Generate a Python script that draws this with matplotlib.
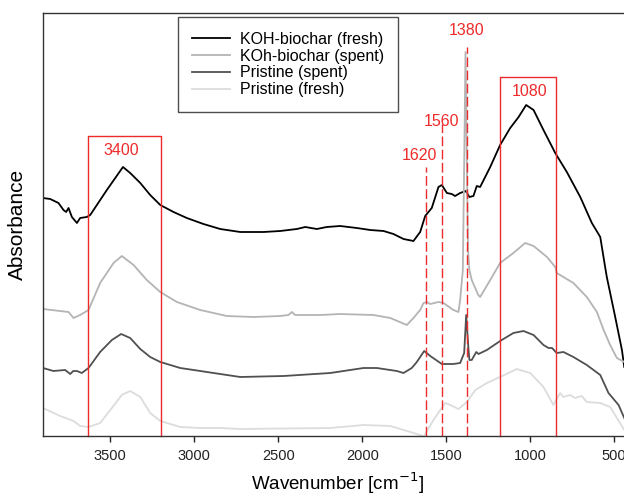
import numpy as np
import matplotlib.pyplot as plt

plt.rcParams['font.family'] = ['Liberation Sans', 'DejaVu Sans']

# KOH-biochar (fresh)
koh_fresh_wn = [3900, 3857, 3808, 3778, 3762, 3748, 3728, 3698, 3679, 3639, 3619, 3520, 3424, 3381,
                3321, 3262, 3202, 3123, 3044, 2945, 2845, 2726, 2587, 2488, 2389, 2339, 2270, 2211,
                2131, 2032, 1952, 1873, 1814, 1754, 1695, 1655, 1625, 1586, 1546, 1526, 1496, 1467,
                1447, 1417, 1384, 1362, 1338, 1318, 1298, 1238, 1179, 1119, 1069, 1024, 980, 921,
                851, 782, 702, 633, 583, 554, 544, 494, 454, 440]
koh_fresh_abs = [2.38, 2.37, 2.33, 2.26, 2.24, 2.28, 2.19, 2.13, 2.18, 2.19, 2.21, 2.46, 2.69, 2.63,
                 2.53, 2.41, 2.31, 2.24, 2.18, 2.12, 2.07, 2.04, 2.04, 2.05, 2.07, 2.09, 2.07, 2.09,
                 2.10, 2.08, 2.06, 2.05, 2.02, 1.97, 1.95, 2.04, 2.20, 2.28, 2.49, 2.51, 2.43, 2.42,
                 2.40, 2.43, 2.45, 2.39, 2.40, 2.50, 2.49, 2.69, 2.91, 3.08, 3.19, 3.31, 3.26, 3.06,
                 2.83, 2.64, 2.39, 2.13, 1.99, 1.69, 1.59, 1.19, 0.86, 0.69]

# KOh-biochar (spent)
koh_spent_wn = [3900, 3798, 3748, 3718, 3679, 3629, 3560, 3480, 3431, 3361, 3282, 3202, 3103, 2964,
                2806, 2647, 2488, 2439, 2419, 2399, 2250, 2131, 1933, 1833, 1734, 1695, 1655, 1635,
                1615, 1595, 1546, 1516, 1457, 1427, 1417, 1401, 1392, 1385, 1378, 1370, 1362, 1348,
                1309, 1298, 1238, 1179, 1100, 1030, 980, 900, 851, 842, 743, 663, 603, 563, 524,
                484, 440]
koh_spent_abs = [1.27, 1.25, 1.24, 1.18, 1.21, 1.26, 1.53, 1.73, 1.80, 1.71, 1.56, 1.44, 1.34, 1.26,
                 1.20, 1.19, 1.20, 1.21, 1.24, 1.21, 1.21, 1.22, 1.21, 1.18, 1.11, 1.18, 1.26, 1.33,
                 1.34, 1.32, 1.34, 1.33, 1.26, 1.24, 1.36, 1.66, 2.86, 3.84, 2.86, 1.86, 1.66, 1.56,
                 1.41, 1.39, 1.56, 1.73, 1.83, 1.93, 1.90, 1.79, 1.69, 1.63, 1.53, 1.39, 1.24, 1.06,
                 0.91, 0.78, 0.74]

# Pristine (spent)
pri_spent_wn = [3900, 3838, 3768, 3738, 3720, 3698, 3669, 3629, 3560, 3490, 3435, 3381, 3321, 3262,
                3202, 3083, 2964, 2845, 2726, 2468, 2190, 1992, 1913, 1794, 1754, 1705, 1675, 1631,
                1595, 1526, 1457, 1417, 1393, 1381, 1367, 1362, 1348, 1321, 1308, 1258, 1179, 1100,
                1040, 980, 921, 891, 870, 842, 802, 743, 663, 583, 534, 474, 440]
pri_spent_abs = [0.68, 0.65, 0.66, 0.62, 0.65, 0.65, 0.63, 0.68, 0.84, 0.96, 1.02, 0.98, 0.87, 0.79,
                 0.74, 0.68, 0.65, 0.62, 0.59, 0.60, 0.63, 0.68, 0.68, 0.65, 0.63, 0.68, 0.74, 0.85,
                 0.80, 0.72, 0.72, 0.73, 0.83, 1.21, 0.86, 0.76, 0.76, 0.84, 0.82, 0.86, 0.95, 1.03,
                 1.05, 1.01, 0.91, 0.88, 0.88, 0.83, 0.84, 0.79, 0.71, 0.61, 0.43, 0.31, 0.18]

# Pristine (fresh)
pri_fresh_wn = [3900, 3798, 3718, 3679, 3629, 3560, 3490, 3431, 3381, 3321, 3262, 3202, 3083, 2964,
                2845, 2726, 2190, 1992, 1833, 1714, 1655, 1635, 1576, 1506, 1476, 1427, 1377, 1327,
                1258, 1179, 1080, 1000, 921, 862, 822, 803, 762, 733, 693, 663, 583, 524, 440]
pri_fresh_abs = [0.28, 0.20, 0.15, 0.10, 0.09, 0.13, 0.28, 0.41, 0.45, 0.39, 0.23, 0.15, 0.09, 0.08,
                 0.08, 0.07, 0.08, 0.11, 0.10, 0.04, 0.01, -0.01, 0.16, 0.33, 0.31, 0.27, 0.34, 0.46,
                 0.53, 0.59, 0.67, 0.63, 0.49, 0.31, 0.43, 0.39, 0.41, 0.38, 0.40, 0.34, 0.33, 0.29,
                 0.06]

labels = ['KOH-biochar (fresh)', 'KOh-biochar (spent)', 'Pristine (spent)', 'Pristine (fresh)']
colors = ['#000000', '#b4b4b4', '#505050', '#dcdcdc']

# marked bands: (left, right, top, label, label x)
box_ranges = [(3630, 3200, 3.00, '3400', 3435), (1180, 845, 3.59, '1080', 1006)]
# marked peaks: (position, top, label, label x, label y)
peak_lines = [(1621, 2.69, '1620', 1661, 2.81), (1526, 3.12, '1560', 1526, 3.15),
              (1379, 3.89, '1380', 1381, 4.06)]

red = '#ee2a2a'

fig = plt.figure(figsize=(6.24, 4.99), dpi=100)
ax = fig.add_axes([43 / 624, 63 / 499, 588 / 624, 423 / 499])

series = [(koh_fresh_wn, koh_fresh_abs), (koh_spent_wn, koh_spent_abs),
          (pri_spent_wn, pri_spent_abs), (pri_fresh_wn, pri_fresh_abs)]
for (wn, ab), lab, c in zip(series, labels, colors):
    ax.plot(wn, ab, color=c, lw=1.3, label=lab)

for x0, x1, top, txt, tx in box_ranges:
    ax.plot([x0, x0, x1, x1], [0, top, top, 0], color=red, lw=1.0, clip_on=False)
    ax.text(tx, top - 0.14, txt, color=red, fontsize=11.5, ha='center', va='center')

for x, top, txt, tx, ty in peak_lines:
    ax.plot([x, x], [0, top], color=red, lw=1.0, ls=(0, (7, 2.5)))
    ax.text(tx, ty, txt, color=red, fontsize=11.5, ha='center', va='center')

ax.set_xlim(3900, 400)
ax.set_ylim(0, 4.23)
ax.set_xticks([3500, 3000, 2500, 2000, 1500, 1000, 500])
ax.set_yticks([])
ax.tick_params(axis='x', direction='out', length=4, width=1, pad=5, labelsize=10.5, colors='#222222')
for s in ['left', 'top', 'bottom']:
    ax.spines[s].set_color('#333333')
    ax.spines[s].set_linewidth(1.0)
ax.spines['right'].set_visible(False)

ax.set_xlabel('Wavenumber [cm$^{-1}$]', fontsize=13.5)
ax.set_ylabel('Absorbance', fontsize=15)
ax.xaxis.set_label_coords(0.5, -0.082)
ax.yaxis.set_label_coords(-0.027, 0.5)

leg = ax.legend(loc='upper left', bbox_to_anchor=(0.229, 0.99), fontsize=11.5, frameon=True,
                fancybox=False, edgecolor='#222222', handlelength=2.4, handletextpad=0.6,
                labelspacing=0.12, borderpad=0.9, borderaxespad=0)
leg.get_frame().set_linewidth(1.0)

plt.savefig('out.png', dpi=100)
